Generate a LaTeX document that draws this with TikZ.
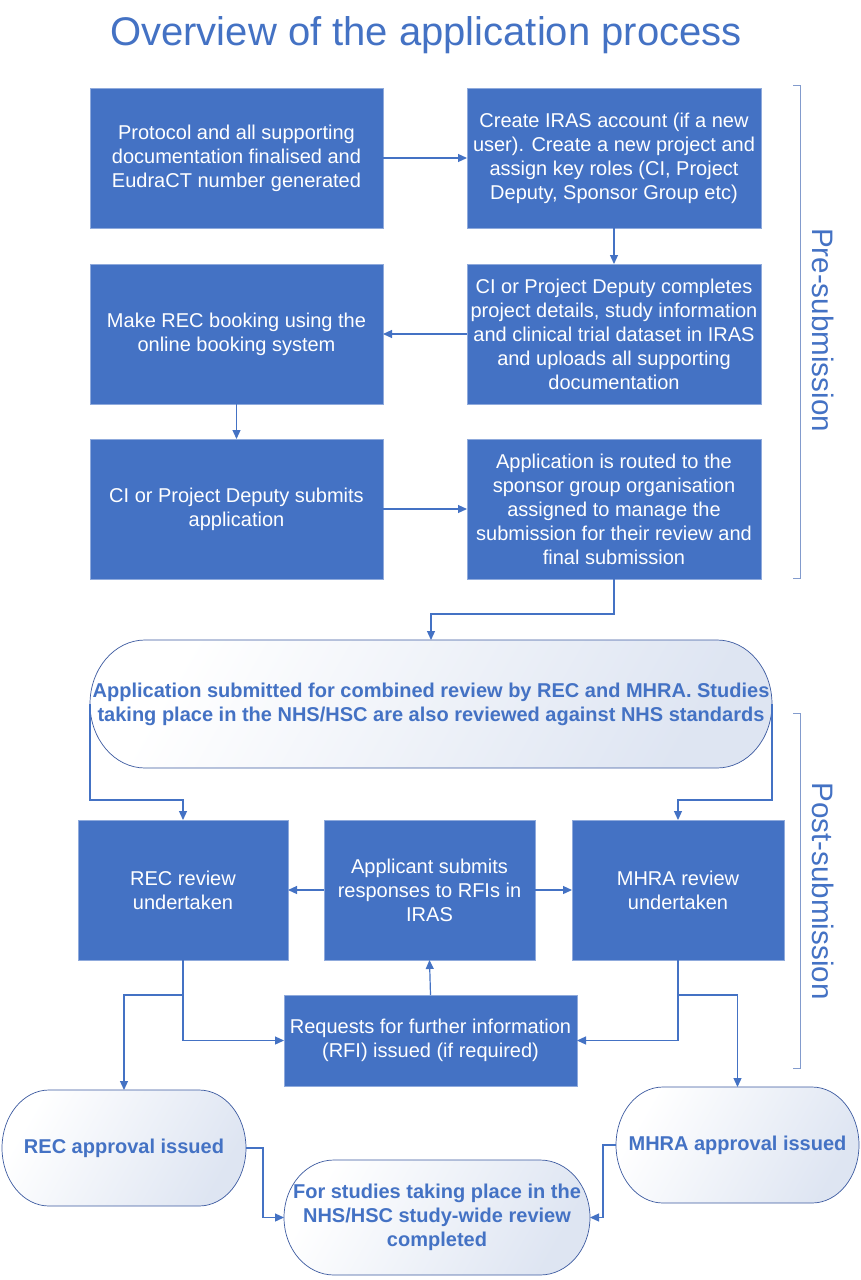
\documentclass[tikz,border=0pt]{standalone}
\usepackage{fontspec}
\setmainfont{Liberation Sans}
\usetikzlibrary{arrows.meta,backgrounds}
\definecolor{mblue}{RGB}{68,114,196}
\definecolor{lblue}{RGB}{143,170,220}
\definecolor{ovalfill}{RGB}{222,229,242}
\definecolor{ovaledge}{RGB}{60,90,160}
\definecolor{brk}{RGB}{130,155,205}
\newcommand\ovalpath[3]{%
 \path[ovshape] ([xshift=#2]#1.north west) -- ([xshift=-#2]#1.north east)
   arc[start angle=90,end angle=0,x radius=#2,y radius=#3]
   -- ([yshift=#3]#1.south east)
   arc[start angle=0,end angle=-90,x radius=#2,y radius=#3]
   -- ([xshift=#2]#1.south west)
   arc[start angle=270,end angle=180,x radius=#2,y radius=#3]
   -- ([yshift=-#3]#1.north west)
   arc[start angle=180,end angle=90,x radius=#2,y radius=#3] -- cycle;}
\begin{document}
\begin{tikzpicture}[x=1pt,y=1pt,
  bx/.style={rectangle, fill=mblue, draw=lblue, line width=0.8pt, text=white,
    align=center, inner sep=0pt, outer sep=0pt, font=\fontsize{20}{24}\selectfont},
  ov/.style={rectangle, draw=none, align=center, inner sep=0pt, outer sep=0pt,
    text=mblue, font=\fontsize{20}{24}\selectfont\bfseries},
  ovshape/.style={draw=ovaledge, line width=0.7pt, left color=white, right color=ovalfill, shading angle=60},
  arr/.style={draw=mblue, line width=1.2pt, -{Triangle[length=9pt,width=8pt]}},
  brack/.style={draw=brk, line width=0.9pt},
  side/.style={text=mblue, font=\fontsize{29.6}{32}\selectfont, rotate=-90}]
\useasboundingbox (0,0) rectangle (861,-1280);

\node[text=mblue, font=\fontsize{40}{44}\selectfont] (title) at (426,-35) {Overview of the application process};

\node[bx, minimum width=293, minimum height=140] (A) at (236.5,-158) {Protocol and all supporting\\documentation finalised and\\EudraCT number generated};
\node[bx, minimum width=294, minimum height=140] (B) at (614,-158) {Create IRAS account (if a new\\user). Create a new project and\\assign key roles (CI, Project\\Deputy, Sponsor Group etc)};
\node[bx, minimum width=293, minimum height=140] (C) at (236.5,-334) {Make REC booking using the\\online booking system};
\node[bx, minimum width=294, minimum height=140] (D) at (614,-334) {CI or Project Deputy completes\\project details, study information\\and clinical trial dataset in IRAS\\and uploads all supporting\\documentation};
\node[bx, minimum width=293, minimum height=140] (E) at (236.5,-509) {CI or Project Deputy submits\\application};
\node[bx, minimum width=294, minimum height=140] (F) at (614,-509) {Application is routed to the\\sponsor group organisation\\assigned to manage the\\submission for their review and\\final submission};

\node[ov, minimum width=682, minimum height=128] (G) at (431,-704) {Application submitted for combined review by REC and MHRA. Studies\\taking place in the NHS/HSC are also reviewed against NHS standards};

\node[bx, minimum width=210, minimum height=140] (H) at (183,-890) {REC review\\undertaken};
\node[bx, minimum width=211, minimum height=140] (I) at (429.5,-890) {Applicant submits\\responses to RFIs in\\IRAS};
\node[bx, minimum width=212, minimum height=140] (J) at (678,-890) {MHRA review\\undertaken};
\node[bx, minimum width=293, minimum height=91] (K) at (430.5,-1040.5) {Requests for further information\\(RFI) issued (if required)};

\node[ov, minimum width=244, minimum height=116] (L) at (124,-1148) {REC approval issued};
\node[ov, minimum width=243, minimum height=116] (M) at (737.5,-1145) {MHRA approval issued};
\node[ov, minimum width=306, minimum height=115] (N) at (437,-1217.5) {For studies taking place in the\\NHS/HSC study-wide review\\completed};

\begin{scope}[on background layer]
\fill[white] (0,0) rectangle (861,-1280);
\ovalpath{G}{55pt}{64pt}
\ovalpath{L}{47pt}{58pt}
\ovalpath{M}{47pt}{58pt}
\ovalpath{N}{50pt}{57.5pt}
\end{scope}

\coordinate (hb) at (183,-995);
\coordinate (jb) at (678,-995);

\draw[arr] (A) -- (B);
\draw[arr] (B) -- (D);
\draw[arr] (D) -- (C);
\draw[arr] (C) -- (E);
\draw[arr] (E) -- (F);
\draw[arr] (F.south) -- ++(0,-35) -| (G.north);
\draw[arr] (G.west) -- ++(0,-96) -| (H.north);
\draw[arr] (G.east) -- ++(0,-96) -| (J.north);
\draw[arr] (I) -- (H);
\draw[arr] (I) -- (J);
\draw[arr] (K.north) -- (I.south);
\draw[arr] (H.south) |- (K.west);
\draw[arr] (J.south) |- (K.east);
\draw[arr] (hb) -| (L.north);
\draw[arr] (jb) -| (M.north);
\draw[arr] (L.east) -- ++(17,0) |- (N.west);
\draw[arr] (M.west) -- ++(-13,0) |- (N.east);

\coordinate (p1) at (793,-85);
\coordinate (p2) at (793,-578);
\coordinate (q1) at (793,-713);
\coordinate (q2) at (793,-1068);
\draw[brack] (p1) -- ++(7,0) |- (p2);
\draw[brack] (q1) -- ++(7,0) |- (q2);
\node[side] (pre) at (823,-330) {Pre-submission};
\node[side] (post) at (823,-891) {Post-submission};
\end{tikzpicture}
\end{document}
